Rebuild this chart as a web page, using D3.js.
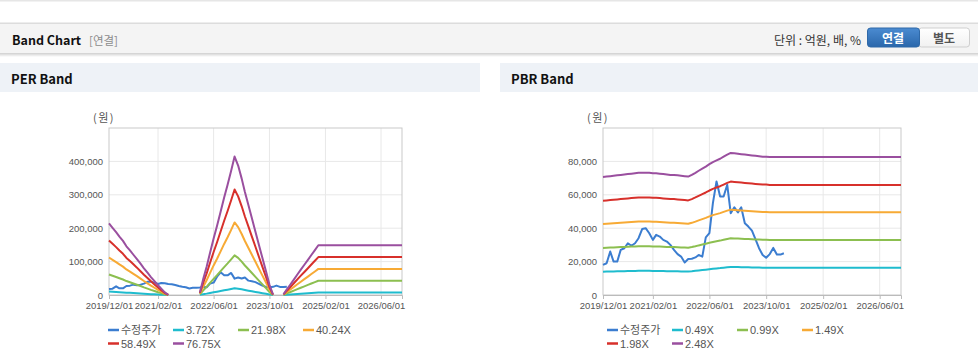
<!DOCTYPE html>
<html>
<head>
<meta charset="utf-8">
<script src="https://cdn.jsdelivr.net/npm/d3@7"></script>
<style>
body{margin:0;background:#fff;}
svg{display:block;}
</style>
</head>
<body>
<svg id="chart" width="978" height="361"></svg>
<script>
// monthly points, 2019/12 .. 2026/12
var months = d3.timeMonth.range(new Date(2019, 11, 1), new Date(2027, 0, 1));
var xTickLabels = ["2019/12/01", "2021/02/01", "2022/06/01", "2023/10/01", "2025/02/01", "2026/06/01"];

// 수정주가 (adjusted price), ends 2024/03
var price = [18000, 19000, 26000, 20000, 20000, 27000, 28000, 31000, 29500, 31000,
             34000, 39500, 40000, 37000, 33000, 36000, 35000, 33000, 32000, 30000,
             27000, 24500, 23000, 19500, 21500, 21700, 22500, 24000, 23000, 34500,
             37000, 55000, 68000, 59000, 59000, 66000, 49000, 52500, 49500, 52500,
             43000, 41000, 38500, 33500, 28000, 24000, 22300, 24500, 28200, 24200,
             24200, 25000];

// EPS behind the PER band (null = not shown)
var eps = [2790, 2620, 2450, 2280, 2110, 1900, 1740, 1570, 1400, 1220,
           1040, 870, 700, 540, 380, 250, 100, 10,
           null, null, null, null, null, null, null, null,
           100, 600, 1100, 1650, 2200, 2700, 3250, 3800, 4300, 4850, 5400,
           5050, 4540, 4020, 3500, 2990, 2470, 1960, 1440, 930, 410, 20,
           null, null,
           30, 220, 410, 600, 800, 990, 1180, 1370, 1560, 1750,
           1940, 1940, 1940, 1940, 1940, 1940, 1940, 1940, 1940, 1940,
           1940, 1940, 1940, 1940, 1940, 1940, 1940, 1940, 1940, 1940,
           1940, 1940, 1940, 1940, 1940];

// BPS behind the PBR band
var bps = [28500, 28600, 28700, 28800, 28900, 29000, 29100, 29200, 29300, 29400,
           29500, 29500, 29500, 29500, 29400, 29400, 29300, 29200, 29100, 29000,
           29000, 28900, 28800, 28700, 28600,
           29000, 29500, 30000, 30500, 31000, 31600, 32100, 32500, 32900, 33400, 33900, 34300,
           34200, 34100, 34000, 33900, 33800, 33700, 33600, 33500, 33400, 33400,
           33300, 33300, 33300, 33300, 33300, 33300, 33300, 33300, 33300, 33300,
           33300, 33300, 33300, 33300, 33300, 33300, 33300, 33300, 33300, 33300,
           33300, 33300, 33300, 33300, 33300, 33300, 33300, 33300, 33300, 33300,
           33300, 33300, 33300, 33300, 33300, 33300, 33300, 33300];

var perMultiples = [3.72, 21.98, 40.24, 58.49, 76.75];
var pbrMultiples = [0.49, 0.99, 1.49, 1.98, 2.48];
var perYTicks = [0, 100000, 200000, 300000, 400000];
var pbrYTicks = [0, 20000, 40000, 60000, 80000];

var priceColor = "#3b7dd0";
var bandColors = ["#1fbcce", "#8cbf50", "#f7aa35", "#d7302b", "#9a4f9f"];

var latin = "'Liberation Sans', Arial, 'Noto Sans CJK KR', sans-serif";
var kr = "'Noto Sans CJK KR', 'Liberation Sans', sans-serif";
var parse = d3.timeParse("%Y/%m/%d");

var svg = d3.select("#chart");

// ---- top header ----
svg.append("rect").attr("x", 0).attr("y", 0).attr("width", 978).attr("height", 1.5).attr("fill", "#e6e6e6");

var defs = svg.append("defs");
var shadow = defs.append("linearGradient").attr("id", "shadow").attr("x1", 0).attr("y1", 0).attr("x2", 0).attr("y2", 1);
shadow.append("stop").attr("offset", 0).attr("stop-color", "#cfcfcf");
shadow.append("stop").attr("offset", 1).attr("stop-color", "#ffffff");
var blue = defs.append("linearGradient").attr("id", "blueBtn").attr("x1", 0).attr("y1", 0).attr("x2", 0).attr("y2", 1);
blue.append("stop").attr("offset", 0).attr("stop-color", "#4b8bd1");
blue.append("stop").attr("offset", 1).attr("stop-color", "#2a67ab");
var white = defs.append("linearGradient").attr("id", "whiteBtn").attr("x1", 0).attr("y1", 0).attr("x2", 0).attr("y2", 1);
white.append("stop").attr("offset", 0).attr("stop-color", "#ffffff");
white.append("stop").attr("offset", 1).attr("stop-color", "#f1f1f1");

svg.append("rect").attr("x", 0).attr("y", 23).attr("width", 978).attr("height", 30).attr("fill", "#f4f4f4");
svg.append("rect").attr("x", 0).attr("y", 22.5).attr("width", 978).attr("height", 1.5).attr("fill", "#dcdcdc");
svg.append("rect").attr("x", 0).attr("y", 53).attr("width", 978).attr("height", 4).attr("fill", "url(#shadow)");

svg.append("text").attr("x", 12).attr("y", 39.5).attr("dominant-baseline", "central")
    .attr("font-family", kr).attr("font-weight", "bold").attr("font-size", 12.5).attr("fill", "#111")
    .text("Band Chart");
svg.append("text").attr("x", 89).attr("y", 39.5).attr("dominant-baseline", "central")
    .attr("font-family", kr).attr("font-size", 11.5).attr("fill", "#8c8c8c")
    .text("[연결]");
svg.append("text").attr("x", 861).attr("y", 39.5).attr("dominant-baseline", "central").attr("text-anchor", "end")
    .attr("font-family", kr).attr("font-size", 12).attr("fill", "#333")
    .text("단위 : 억원, 배, %");

svg.append("rect").attr("x", 918.5).attr("y", 28).attr("width", 51).attr("height", 19).attr("rx", 3)
    .attr("fill", "url(#whiteBtn)").attr("stroke", "#cfcfcf");
svg.append("rect").attr("x", 867.5).attr("y", 28).attr("width", 52).attr("height", 19).attr("rx", 3)
    .attr("fill", "url(#blueBtn)").attr("stroke", "#2f69a8");
svg.append("text").attr("x", 893).attr("y", 37.5).attr("dominant-baseline", "central").attr("text-anchor", "middle")
    .attr("font-family", kr).attr("font-weight", "bold").attr("font-size", 12).attr("fill", "#fff").text("연결");
svg.append("text").attr("x", 944).attr("y", 37.5).attr("dominant-baseline", "central").attr("text-anchor", "middle")
    .attr("font-family", kr).attr("font-weight", "bold").attr("font-size", 12).attr("fill", "#555").text("별도");

// ---- one band panel ----
function DrawBand(cfg)
{
    svg.append("rect").attr("x", cfg.panelX).attr("y", 63).attr("width", cfg.panelW).attr("height", 29).attr("fill", "#eef2f7");
    svg.append("text").attr("x", cfg.panelX + 11).attr("y", 78.5).attr("dominant-baseline", "central")
        .attr("font-family", kr).attr("font-weight", "bold").attr("font-size", 13).attr("fill", "#111")
        .text(cfg.title);

    var x = d3.scaleTime().domain([months[0], months[months.length - 1]]).range([cfg.left, cfg.right]);
    var y = d3.scaleLinear().domain([0, cfg.yMax]).range([cfg.bottom, cfg.top]);
    var xTicks = xTickLabels.map(parse);

    var g = svg.append("g");

    // grid
    g.selectAll("line.hg").data(cfg.yTicks.slice(1)).enter().append("line")
        .attr("x1", cfg.left).attr("x2", cfg.right)
        .attr("y1", d => y(d)).attr("y2", d => y(d))
        .attr("stroke", "#e8e8e8");
    g.selectAll("line.vg").data(xTicks.slice(1)).enter().append("line")
        .attr("x1", d => x(d)).attr("x2", d => x(d))
        .attr("y1", cfg.top).attr("y2", cfg.bottom)
        .attr("stroke", "#e8e8e8");
    g.append("rect").attr("x", cfg.left).attr("y", cfg.top)
        .attr("width", cfg.right - cfg.left).attr("height", cfg.bottom - cfg.top)
        .attr("fill", "none").attr("stroke", "#c9c9c9");

    // axes
    var ya = g.append("g").attr("transform", "translate(" + cfg.left + ",0)")
        .call(d3.axisLeft(y).tickValues(cfg.yTicks).tickSize(0).tickPadding(6).tickFormat(d3.format(",")));
    ya.select(".domain").remove();
    ya.selectAll("text").attr("font-family", latin).attr("font-size", 9.5).attr("fill", "#555");

    var xa = g.append("g").attr("transform", "translate(0," + cfg.bottom + ")")
        .call(d3.axisBottom(x).tickValues(xTicks).tickSize(4).tickPadding(3).tickFormat(d3.timeFormat("%Y/%m/%d")));
    xa.select(".domain").attr("stroke", "#bbb");
    xa.selectAll("line").attr("stroke", "#bbb");
    xa.selectAll("text").attr("font-family", latin).attr("font-size", 9.5).attr("fill", "#555");

    g.append("text").attr("x", cfg.left - 16).attr("y", 117).attr("dominant-baseline", "central")
        .attr("font-family", kr).attr("font-size", 11).attr("fill", "#555").attr("letter-spacing", 1.5)
        .text("(원)");

    // lines
    var line = d3.line()
        .defined(d => d.v != null)
        .x(d => x(d.date))
        .y(d => y(d.v));

    var series = [{name: "수정주가", color: priceColor,
                   values: months.map((m, i) => ({date: m, v: price[i] == null ? null : price[i]}))}];
    cfg.multiples.forEach(function(k, j){
        series.push({name: k.toFixed(2) + "X", color: bandColors[j],
                     values: months.map((m, i) => ({date: m, v: cfg.base[i] == null ? null : cfg.base[i] * k}))});
    });

    g.selectAll("path.band").data(series).enter().append("path")
        .attr("d", d => line(d.values))
        .attr("fill", "none")
        .attr("stroke", d => d.color)
        .attr("stroke-width", 2)
        .attr("stroke-linejoin", "round");

    // legend
    var lg = g.selectAll("g.lg").data(series).enter().append("g")
        .attr("transform", (d, i) => "translate(" + (cfg.legendX + (i % 4) * 65) + "," + (330 + Math.floor(i / 4) * 13.5) + ")");
    lg.append("line").attr("x1", 0).attr("x2", 11).attr("y1", 0).attr("y2", 0)
        .attr("stroke", d => d.color).attr("stroke-width", 2.5);
    lg.append("text").attr("x", 13).attr("y", 0).attr("dominant-baseline", "central")
        .attr("font-family", latin).attr("font-size", 11).attr("fill", "#555")
        .text(d => d.name);
}

DrawBand({title: "PER Band", panelX: 0, panelW: 480, left: 109, right: 402, top: 128, bottom: 295,
          yMax: 500000, yTicks: perYTicks, base: eps, multiples: perMultiples, legendX: 108});
DrawBand({title: "PBR Band", panelX: 500, panelW: 478, left: 603, right: 901, top: 128, bottom: 295,
          yMax: 100000, yTicks: pbrYTicks, base: bps, multiples: pbrMultiples, legendX: 607});
</script>
</body>
</html>
